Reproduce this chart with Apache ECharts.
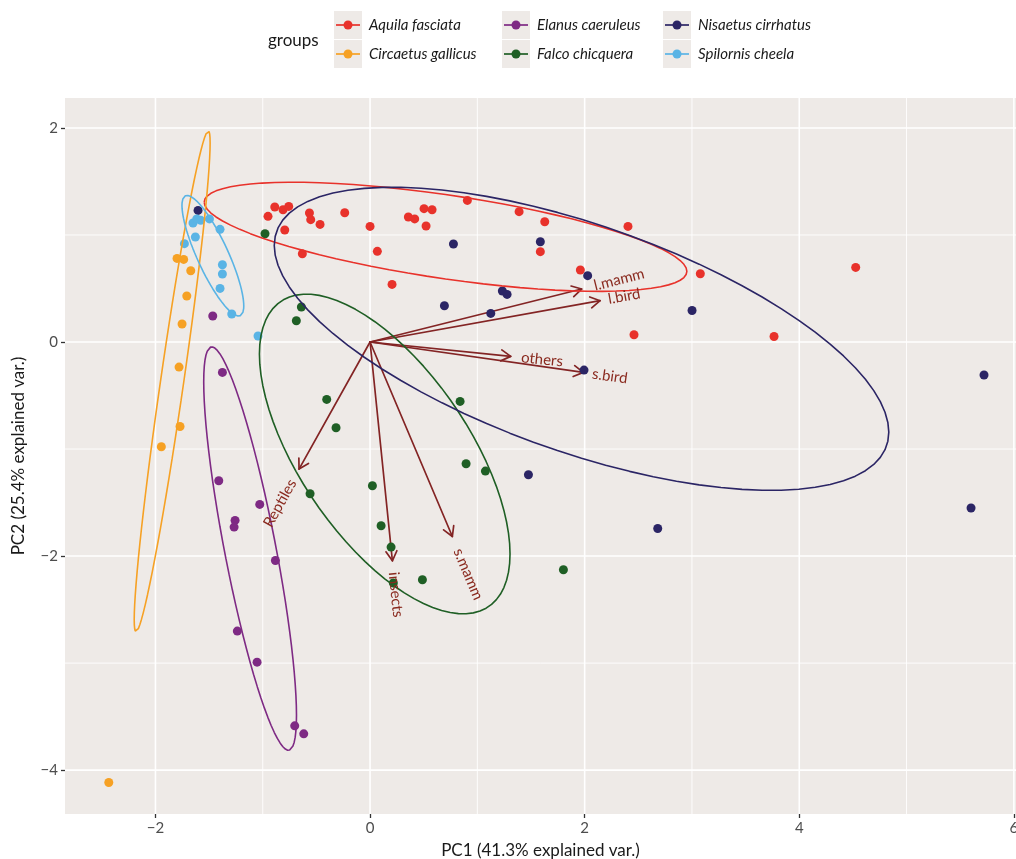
<!DOCTYPE html>
<html>
<head>
<meta charset="utf-8">
<script src="https://cdn.jsdelivr.net/npm/echarts@6/dist/echarts.min.js"></script>
<style>
  html, body { margin: 0; padding: 0; background: #ffffff; }
  #chart { width: 1016px; height: 859px; }
</style>
</head>
<body>
<div id="chart"></div>
<script>
// ---- PCA scores per group: [PC1, PC2] ----
const groupNames = ['Aquila fasciata', 'Circaetus gallicus', 'Elanus caeruleus',
                    'Falco chicquera', 'Nisaetus cirrhatus', 'Spilornis cheela'];
const groupColors = ['#E8322B', '#F6A124', '#7E2A84', '#1F5F25', '#2B2565', '#5AB4E5'];

const aquilaFasciata = [
  [-0.951, 1.174], [-0.888, 1.262], [-0.811, 1.236], [-0.758, 1.267], [-0.795, 1.047],
  [-0.565, 1.206], [-0.553, 1.143], [-0.466, 1.099], [-0.236, 1.208], [0.000, 1.080],
  [0.068, 0.847], [-0.631, 0.825], [0.907, 1.323], [1.389, 1.218], [1.628, 1.124],
  [0.357, 1.168], [0.416, 1.150], [0.503, 1.246], [0.578, 1.236], [0.522, 1.084],
  [1.587, 0.844], [1.960, 0.673], [2.404, 1.080], [3.078, 0.638], [2.460, 0.068],
  [0.205, 0.538], [4.526, 0.697], [3.765, 0.052]
];
const circaetusGallicus = [
  [-1.799, 0.781], [-1.737, 0.772], [-1.671, 0.666], [-1.708, 0.430], [-1.752, 0.168],
  [-1.780, -0.234], [-1.771, -0.789], [-1.945, -0.979], [-2.435, -4.116]
];
const elanusCaeruleus = [
  [-1.466, 0.243], [-1.376, -0.284], [-1.410, -1.296], [-1.028, -1.517], [-1.258, -1.667],
  [-1.267, -1.729], [-0.882, -2.041], [-1.237, -2.701], [-1.053, -2.991], [-0.702, -3.586],
  [-0.618, -3.661]
];
const falcoChicquera = [
  [-0.979, 1.012], [-0.640, 0.327], [-0.687, 0.199], [-0.404, -0.536], [-0.317, -0.801],
  [0.839, -0.555], [0.895, -1.137], [1.075, -1.206], [-0.559, -1.418], [0.022, -1.343],
  [0.103, -1.717], [0.196, -1.916], [0.488, -2.221], [1.802, -2.128], [0.217, -2.252]
];
const nisaetusCirrhatus = [
  [-1.603, 1.230], [0.777, 0.916], [1.587, 0.937], [2.028, 0.620], [1.233, 0.477],
  [1.277, 0.445], [0.693, 0.339], [1.125, 0.267], [3.001, 0.295], [1.994, -0.262],
  [5.722, -0.308], [5.601, -1.551], [2.681, -1.742], [1.476, -1.240]
];
const spilornisCheela = [
  [-1.650, 1.112], [-1.615, 1.150], [-1.578, 1.137], [-1.497, 1.150], [-1.398, 1.053],
  [-1.628, 0.981], [-1.730, 0.919], [-1.376, 0.722], [-1.376, 0.636], [-1.398, 0.501],
  [-1.289, 0.262], [-1.044, 0.056]
];
const groupScores = [aquilaFasciata, circaetusGallicus, elanusCaeruleus,
                     falcoChicquera, nisaetusCirrhatus, spilornisCheela];

// ---- variable loadings (arrow tips) ----
const varNames = ['l.mamm', 'l.bird', 'others', 's.bird', 'Reptiles', 'insects', 's.mamm'];
const varX = [1.972, 2.144, 1.311, 1.988, -0.662, 0.208, 0.767];
const varY = [0.495, 0.386, -0.134, -0.284, -1.187, -2.044, -1.817];

// ---- axes ----
const xMajorTicks = [-2, 0, 2, 4, 6];
const xMinorTicks = [-1, 1, 3, 5];
const yMajorTicks = [-4, -2, 0, 2];
const yMinorTicks = [-3, -1, 1];
const xTitle = 'PC1 (41.3% explained var.)';
const yTitle = 'PC2 (25.4% explained var.)';
const legendTitle = 'groups';
const ellipseProb = 0.68;

const X_MIN = -2.843, X_MAX = 6.02, Y_MIN = -4.41, Y_MAX = 2.28;
const PANEL_BG = '#EEEAE7';
const ARROW_COLOR = '#832424';
const VAR_TEXT_COLOR = '#8A2A1F';
const FONT = 'Lato, "Open Sans", sans-serif';

// normal-probability concentration ellipse of a point cloud
function concentrationEllipse(pts, prob) {
  const n = pts.length;
  let mx = 0, my = 0;
  pts.forEach(p => { mx += p[0]; my += p[1]; });
  mx /= n; my /= n;
  let sxx = 0, syy = 0, sxy = 0;
  pts.forEach(p => {
    const dx = p[0] - mx, dy = p[1] - my;
    sxx += dx * dx; syy += dy * dy; sxy += dx * dy;
  });
  sxx /= (n - 1); syy /= (n - 1); sxy /= (n - 1);
  const r11 = Math.sqrt(sxx), r12 = sxy / r11, r22 = Math.sqrt(Math.max(syy - r12 * r12, 0));
  const ed = Math.sqrt(-2 * Math.log(1 - prob));
  const out = [];
  const steps = 80;
  for (let i = 0; i <= steps; i++) {
    const t = -Math.PI + 2 * Math.PI * i / steps;
    const c = Math.cos(t), s = Math.sin(t);
    out.push([mx + ed * c * r11, my + ed * (c * r12 + s * r22)]);
  }
  return out;
}

const minus = v => (v < 0 ? '\u2212' + Math.abs(v) : String(v));

const measureCtx = document.createElement('canvas').getContext('2d');
function textWidth(text, font) {
  measureCtx.font = font;
  return measureCtx.measureText(text).width;
}

const chart = echarts.init(document.getElementById('chart'), null, { renderer: 'canvas' });

// background grid lines (major + minor)
const gridLineData = [];
xMajorTicks.forEach(v => gridLineData.push([v, 0, 1]));
xMinorTicks.forEach(v => gridLineData.push([v, 0, 0]));
yMajorTicks.forEach(v => gridLineData.push([v, 1, 1]));
yMinorTicks.forEach(v => gridLineData.push([v, 1, 0]));

const series = [];

series.push({
  type: 'custom',
  name: 'gridlines',
  silent: true,
  z: 0,
  clip: true,
  data: gridLineData,
  encode: { x: -1, y: -1 },
  renderItem: function (params, api) {
    const v = api.value(0), vertical = api.value(1) === 0, major = api.value(2) === 1;
    const a = vertical ? api.coord([v, Y_MIN]) : api.coord([X_MIN, v]);
    const b = vertical ? api.coord([v, Y_MAX]) : api.coord([X_MAX, v]);
    return {
      type: 'line',
      shape: { x1: a[0], y1: a[1], x2: b[0], y2: b[1] },
      style: { stroke: '#FFFFFF', lineWidth: major ? 1.6 : 0.9 }
    };
  }
});

// variable arrows
const arrowData = varX.map((x, i) => [x, varY[i]]);
series.push({
  type: 'custom',
  name: 'loadings',
  silent: true,
  z: 1,
  data: arrowData,
  renderItem: function (params, api) {
    const o = api.coord([0, 0]);
    const e = api.coord([api.value(0), api.value(1)]);
    const ang = Math.atan2(e[1] - o[1], e[0] - o[0]);
    const L = 11, spread = Math.PI / 6;
    const w1 = [e[0] - L * Math.cos(ang - spread), e[1] - L * Math.sin(ang - spread)];
    const w2 = [e[0] - L * Math.cos(ang + spread), e[1] - L * Math.sin(ang + spread)];
    const st = { stroke: ARROW_COLOR, lineWidth: 1.7, fill: null, lineCap: 'round', lineJoin: 'round' };
    return {
      type: 'group',
      children: [
        { type: 'line', shape: { x1: o[0], y1: o[1], x2: e[0], y2: e[1] }, style: st },
        { type: 'polyline', shape: { points: [w1, e, w2] }, style: st }
      ]
    };
  }
});

// group scatter points
groupScores.forEach((pts, i) => {
  series.push({
    type: 'scatter',
    name: groupNames[i],
    data: pts,
    symbol: 'circle',
    symbolSize: 9,
    itemStyle: { color: groupColors[i], opacity: 1 },
    z: 2
  });
});

// concentration ellipses
groupScores.forEach((pts, i) => {
  series.push({
    type: 'line',
    name: groupNames[i] + ' ellipse',
    data: concentrationEllipse(pts, ellipseProb),
    showSymbol: false,
    symbol: 'none',
    smooth: false,
    silent: true,
    lineStyle: { color: groupColors[i], width: 1.6 },
    z: 3
  });
});

// variable names along arrows
const varFont = '15px ' + FONT;
series.push({
  type: 'custom',
  name: 'loading labels',
  silent: true,
  z: 4,
  data: arrowData.map((d, i) => [d[0], d[1], i]),
  renderItem: function (params, api) {
    const x = api.value(0), y = api.value(1), idx = api.value(2);
    const e = api.coord([x, y]);
    const label = varNames[idx];
    const w = textWidth(label, varFont);
    const pos = x >= 0;
    return {
      type: 'text',
      x: e[0], y: e[1],
      rotation: Math.atan(y / x),
      style: {
        text: label,
        x: pos ? 0.25 * w : -0.25 * w,
        y: 0,
        align: pos ? 'left' : 'right',
        verticalAlign: 'middle',
        font: varFont,
        fill: VAR_TEXT_COLOR
      }
    };
  }
});

// legend drawn as graphic elements (3 columns x 2 rows, filled by column)
const graphics = [];
graphics.push({
  type: 'text', left: 268, top: 32,
  style: { text: legendTitle, font: '17px ' + FONT, fill: '#1A1A1A' }
});
const keyColX = [334, 502, 663];
const keyRowY = [11, 40];
groupNames.forEach((name, i) => {
  const col = Math.floor(i / 2), row = i % 2;
  const kx = keyColX[col], ky = keyRowY[row];
  const cy = ky + 14;
  graphics.push({ type: 'rect', shape: { x: kx, y: ky, width: 28, height: 28 }, style: { fill: PANEL_BG } });
  graphics.push({ type: 'line', shape: { x1: kx + 2, y1: cy, x2: kx + 26, y2: cy }, style: { stroke: groupColors[i], lineWidth: 1.7 } });
  graphics.push({ type: 'circle', shape: { cx: kx + 14, cy: cy, r: 4.5 }, style: { fill: groupColors[i] } });
  graphics.push({
    type: 'text', x: kx + 35, y: cy,
    style: { text: name, font: 'italic 15px ' + FONT, fill: '#1A1A1A', verticalAlign: 'middle', align: 'left' }
  });
});

const option = {
  backgroundColor: '#FFFFFF',
  animation: false,
  grid: {
    left: 65, top: 98, width: 951, height: 716,
    outerBoundsMode: 'none',
    containLabel: false,
    show: true, backgroundColor: PANEL_BG, borderWidth: 0
  },
  xAxis: {
    type: 'value', min: X_MIN, max: X_MAX,
    axisLine: { show: false, onZero: false },
    splitLine: { show: false },
    axisTick: { show: true, customValues: xMajorTicks, length: 4, lineStyle: { color: '#333333', width: 1.3 } },
    axisLabel: { customValues: xMajorTicks, formatter: minus, color: '#4D4D4D', fontSize: 15, fontFamily: FONT, margin: 7 },
    name: xTitle, nameLocation: 'middle', nameGap: 28,
    nameTextStyle: { fontSize: 17, color: '#1A1A1A', fontFamily: FONT }
  },
  yAxis: {
    type: 'value', min: Y_MIN, max: Y_MAX,
    axisLine: { show: false, onZero: false },
    splitLine: { show: false },
    axisTick: { show: true, customValues: yMajorTicks, length: 4, lineStyle: { color: '#333333', width: 1.3 } },
    axisLabel: { customValues: yMajorTicks, formatter: minus, color: '#4D4D4D', fontSize: 15, fontFamily: FONT, margin: 7 },
    name: yTitle, nameLocation: 'middle', nameGap: 38,
    nameTextStyle: { fontSize: 17, color: '#1A1A1A', fontFamily: FONT }
  },
  graphic: graphics,
  series: series
};

chart.setOption(option);
</script>
</body>
</html>
